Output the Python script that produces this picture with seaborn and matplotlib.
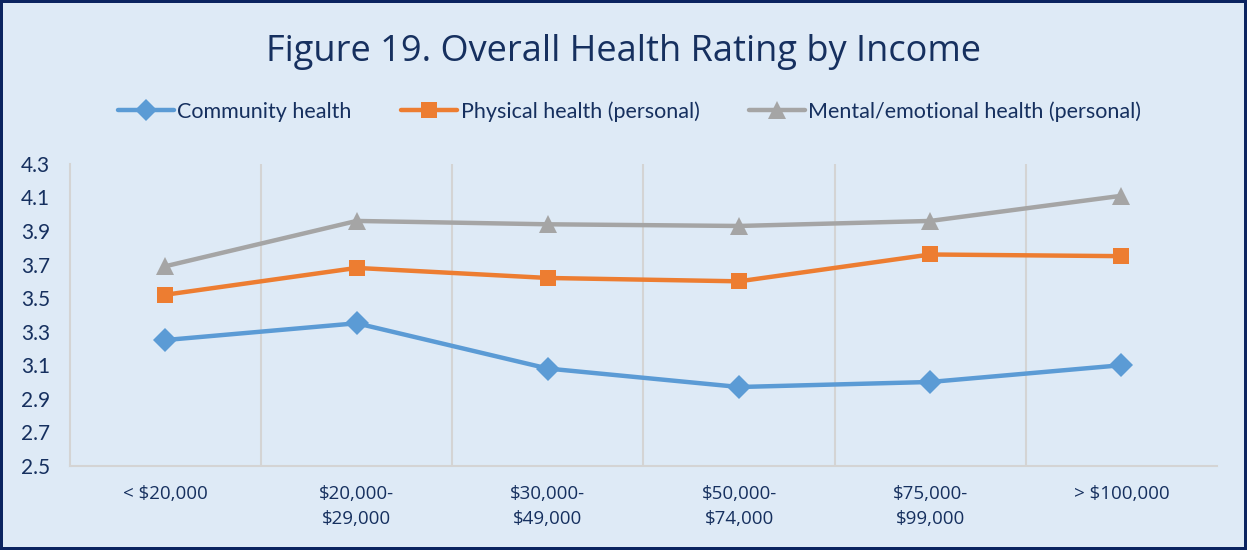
import seaborn as sns
import pandas as pd
from matplotlib import pyplot as plt

# Income brackets and ratings
income = ["< $20,000", "$20,000-\n$29,000", "$30,000-\n$49,000",
          "$50,000-\n$74,000", "$75,000-\n$99,000", "> $100,000"]
community = [3.25, 3.35, 3.08, 2.97, 3.00, 3.10]
physical = [3.52, 3.68, 3.62, 3.60, 3.76, 3.75]
mental = [3.69, 3.96, 3.94, 3.93, 3.96, 4.11]
series = ["Community health", "Physical health (personal)",
          "Mental/emotional health (personal)"]

df = pd.DataFrame({
    "income": income * 3,
    "rating": community + physical + mental,
    "series": [series[0]] * 6 + [series[1]] * 6 + [series[2]] * 6,
})

navy = "#16305F"
bg = "#DEEAF6"
palette = dict(zip(series, ["#5B9BD5", "#ED7D31", "#A5A5A5"]))
markers = dict(zip(series, ["D", "s", "^"]))
msizes = {"D": 12, "s": 12, "^": 13}

sns.set_style("white")
plt.rcParams["font.family"] = ["Lato", "DejaVu Sans"]

fig = plt.figure(figsize=(12.47, 5.5), dpi=100, facecolor=bg,
                 edgecolor="#0B2460", linewidth=3)
ax = fig.add_axes([0.056, 0.153, 0.920, 0.549])
ax.set_facecolor(bg)

sns.lineplot(data=df, x="income", y="rating", hue="series", style="series",
             palette=palette, markers=markers, dashes=False, sort=False,
             linewidth=3.2, markersize=12, markeredgewidth=0, ax=ax)
for line in ax.lines:
    m = line.get_marker()
    if m in msizes:
        line.set_markersize(msizes[m])

ax.set_xlim(-0.5, 5.5)
ax.set_ylim(2.5, 4.3)
ax.set_yticks([2.5 + 0.2 * i for i in range(10)])
ax.set_yticklabels([f"{2.5 + 0.2 * i:.1f}" for i in range(10)])
ax.set_xticks(range(6))
ax.set_xticklabels(income, fontfamily="Open Sans", linespacing=1.45)
ax.set_xticks([0.5 + i for i in range(5)], minor=True)
ax.grid(which="minor", axis="x", color="#D4D4D4", linewidth=1.5)
ax.tick_params(axis="y", labelsize=15, labelcolor=navy, length=0, pad=14)
ax.tick_params(axis="x", labelsize=13.5, labelcolor=navy, length=0, pad=14)
ax.tick_params(which="minor", length=0)
ax.set_xlabel("")
ax.set_ylabel("")
for side in ["top", "right"]:
    ax.spines[side].set_visible(False)
for side in ["left", "bottom"]:
    ax.spines[side].set_color("#D4D4D4")
    ax.spines[side].set_linewidth(1.5)

handles, labels = ax.get_legend_handles_labels()
ax.get_legend().remove()
fig.legend(handles, labels, loc="center", bbox_to_anchor=(0.505, 0.797),
           ncol=3, frameon=False, fontsize=15.5, labelcolor=navy,
           handlelength=2.6, handletextpad=0.15, columnspacing=2.3,
           markerscale=0.95)

fig.text(0.5, 0.905, "Figure 19. Overall Health Rating by Income",
         ha="center", va="center", fontsize=26, color=navy,
         fontfamily="Open Sans")

fig.savefig("out.png", dpi=100, facecolor=bg, edgecolor="#0B2460")
